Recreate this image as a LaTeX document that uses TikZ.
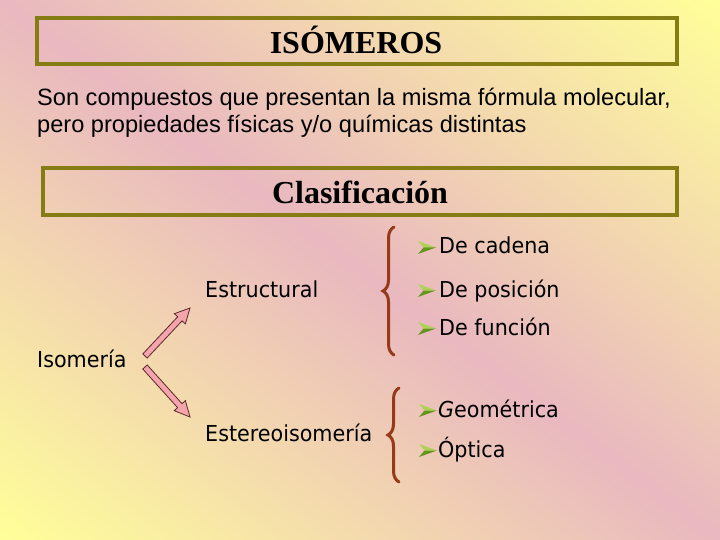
\documentclass[tikz,border=0pt]{standalone}
\usepackage{fontspec}
\setmainfont{Liberation Serif}
\newfontfamily\arialf{Liberation Sans}
\newfontfamily\tahf[FakeStretch=0.94]{DejaVu Sans}
\usetikzlibrary{decorations.pathreplacing}
\definecolor{bgpink}{RGB}{233,184,192}
\definecolor{bgyel}{RGB}{255,255,153}
\definecolor{olivebd}{RGB}{133,125,20}
\definecolor{bracec}{RGB}{150,58,24}
\definecolor{arrpink}{RGB}{244,164,172}
\definecolor{arrline}{RGB}{90,40,40}
\definecolor{bulA}{RGB}{175,210,85}
\definecolor{bulB}{RGB}{100,150,30}
\pgfdeclareverticalshading{bgshade}{120bp}{color(0bp)=(bgyel); color(50bp)=(bgpink); color(100bp)=(bgyel)}
\tikzset{
  tbox/.style={draw=olivebd, line width=4bp},
  ttl/.style={font=\fontsize{32bp}{36bp}\selectfont\bfseries, anchor=base, inner sep=0},
  lab/.style={font=\tahf\fontsize{22bp}{26bp}\selectfont, anchor=base west, inner sep=0},
  body/.style={font=\arialf\fontsize{23.6bp}{27bp}\selectfont, anchor=base west, inner sep=0},
  blk/.style={draw=arrline, line width=0.8bp, fill=arrpink, line join=miter},
  brc/.style={draw=bracec, line width=3bp, line cap=round, decorate, decoration={brace, amplitude=11bp}},
  bul/.pic={\fill[bulA] (0,-6.5)--(18,0)--(5.5,0)--cycle; \fill[bulB] (0,6.5)--(18,0)--(5.5,0)--cycle;}
}
\begin{document}
\begin{tikzpicture}[x=1bp,y=-1bp]
\useasboundingbox (0,0) rectangle (720,540);
\begin{scope}
  \clip (0,0) rectangle (720,540);
  \coordinate (ctr) at (360,270);
  \node[inner sep=0, outer sep=0, transform shape, rotate=-36.87, scale=8.64] at (ctr) {\pgfuseshading{bgshade}};
\end{scope}
% title boxes
\draw[tbox] (37,18) rectangle (677,64);
\node[ttl] (t1) at (356,54) {ISÓMEROS};
\node[body] (s1) at (37,106) {Son compuestos que presentan la misma fórmula molecular,};
\node[body] (s2) at (37,133) {pero propiedades físicas y/o químicas distintas};
\draw[tbox] (43,168) rectangle (677,215);
\node[ttl] (t2) at (360,204) {Clasificación};
% classification
\node[lab] (iso) at (37,367) {Isomería};
\node[lab] (est) at (205,297) {Estructural};
\node[lab] (ste) at (205,441) {Estereoisomería};
\node[lab] (c1) at (439,254) {De cadena};
\node[lab] (c2) at (439,297) {De posición};
\node[lab] (c3) at (439,335) {De función};
\node[lab] (g1) at (438,417) {{\itshape G}eométrica};
\node[lab] (g2) at (438,457) {Óptica};
\pic at (418,247.5) {bul};
\pic at (418,290.5) {bul};
\pic at (418,328.5) {bul};
\pic at (419,410.5) {bul};
\pic at (419,450.5) {bul};
% braces
\coordinate (br1a) at (394,355);
\coordinate (br1b) at (394,227);
\coordinate (br2a) at (399,482);
\coordinate (br2b) at (399,388);
\draw[brc] (br1a) -- (br1b);
\draw[brc] (br2a) -- (br2b);
% block arrows
\coordinate (a1) at (145,356);
\coordinate (a2) at (145,367);
\begin{scope}[shift={(a1)}, rotate=46.85]
  \draw[blk] (0,-3)--(51,-3)--(51,-7.5)--(65.8,0)--(51,7.5)--(51,3)--(0,3)--cycle;
\end{scope}
\begin{scope}[shift={(a2)}, rotate=-48]
  \draw[blk] (0,-3)--(52,-3)--(52,-7.5)--(67.3,0)--(52,7.5)--(52,3)--(0,3)--cycle;
\end{scope}
\end{tikzpicture}
\end{document}
